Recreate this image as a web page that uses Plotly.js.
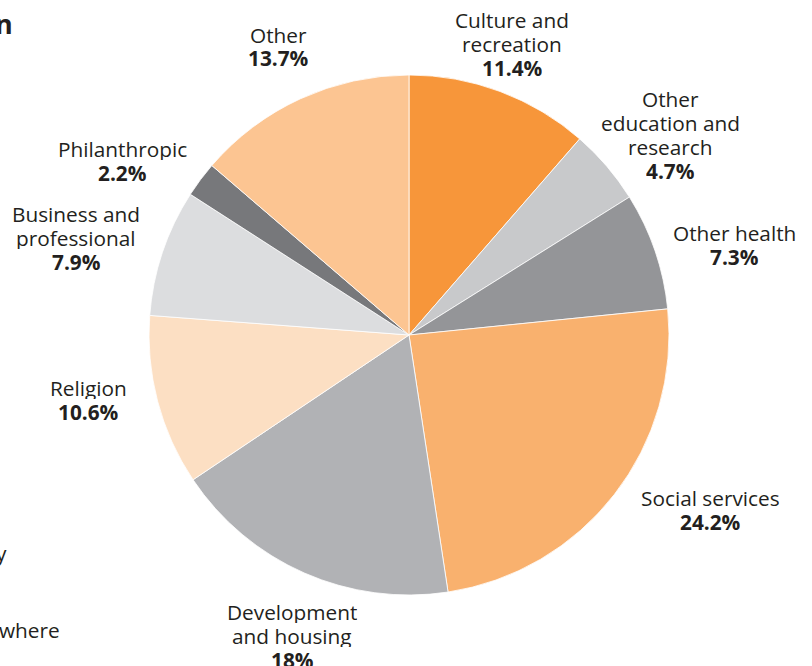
<!DOCTYPE html>
<html>
<head>
<meta charset="utf-8">
<script src="https://cdn.plot.ly/plotly-3.0.1.min.js"></script>
<style>html,body{margin:0;padding:0;background:#fff;overflow:hidden}#chart{width:812px;height:666px}</style>
</head>
<body>
<div id="chart"></div>
<script>
const categories = ["Culture and recreation", "Other education and research", "Other health", "Social services", "Development and housing", "Religion", "Business and professional", "Philanthropic", "Other"];
const values = [11.4, 4.7, 7.3, 24.2, 18, 10.6, 7.9, 2.2, 13.7];
const valueLabels = ["11.4%", "4.7%", "7.3%", "24.2%", "18%", "10.6%", "7.9%", "2.2%", "13.7%"];
const labelLines = [
  ["Culture and", "recreation"],
  ["Other", "education and", "research"],
  ["Other health"],
  ["Social services"],
  ["Development", "and housing"],
  ["Religion"],
  ["Business and", "professional"],
  ["Philanthropic"],
  ["Other"]
];

// styling / layout (not data)
const colors = ["#F7963A", "#C8C9CB", "#949598", "#F9B16E", "#B1B2B5", "#FCDFC3", "#DCDDDF", "#77787B", "#FCC592"];
const W = 812, H = 666;
const labelPos = [[512, 44], [670, 135], [734, 245], [710, 510], [292, 636], [88, 400], [76, 238], [122, 161], [278, 46.5]];
const cx = 409, cy = 335, R = 260;
const LINE = 24, FS = 20.8;
const px = x => x / W, py = y => 1 - y / H;
const textFont = {family: "Open Sans, sans-serif", size: FS, color: "#231F20"};

const annotations = [];
categories.forEach((c, i) => {
  const lines = labelLines[i].concat(["<b>" + valueLabels[i] + "</b>"]);
  const n = lines.length;
  lines.forEach((t, k) => {
    annotations.push({
      xref: "paper", yref: "paper",
      x: px(labelPos[i][0]), y: py(labelPos[i][1] + (k - (n - 1) / 2) * LINE),
      xanchor: "center", yanchor: "middle",
      showarrow: false, align: "center", valign: "middle",
      height: LINE - 2, borderpad: 0,
      text: t, font: textFont
    });
  });
});

// partially visible surrounding text of the original page
annotations.push({xref: "paper", yref: "paper", x: px(15), y: py(24), xanchor: "right", yanchor: "middle", showarrow: false,
  text: "<b>n</b>", font: {family: "Open Sans, sans-serif", size: 27, color: "#231F20"}});
annotations.push({xref: "paper", yref: "paper", x: px(9), y: py(553), xanchor: "right", yanchor: "middle", showarrow: false,
  text: "y", font: textFont});
annotations.push({xref: "paper", yref: "paper", x: px(62), y: py(630), xanchor: "right", yanchor: "middle", showarrow: false,
  text: "where", font: textFont});

const trace = {
  type: "pie",
  labels: categories,
  values: values,
  sort: false,
  direction: "clockwise",
  rotation: 0,
  textinfo: "none",
  hoverinfo: "label+percent",
  marker: {colors: colors, line: {color: "#ffffff", width: 0.8}},
  domain: {x: [px(cx - R), px(cx + R)], y: [py(cy + R), py(cy - R)]}
};

Plotly.newPlot("chart", [trace], {
  width: W, height: H,
  margin: {l: 0, r: 0, t: 0, b: 0},
  showlegend: false,
  paper_bgcolor: "#ffffff",
  annotations: annotations
}, {displayModeBar: false, staticPlot: true});
</script>
</body>
</html>
